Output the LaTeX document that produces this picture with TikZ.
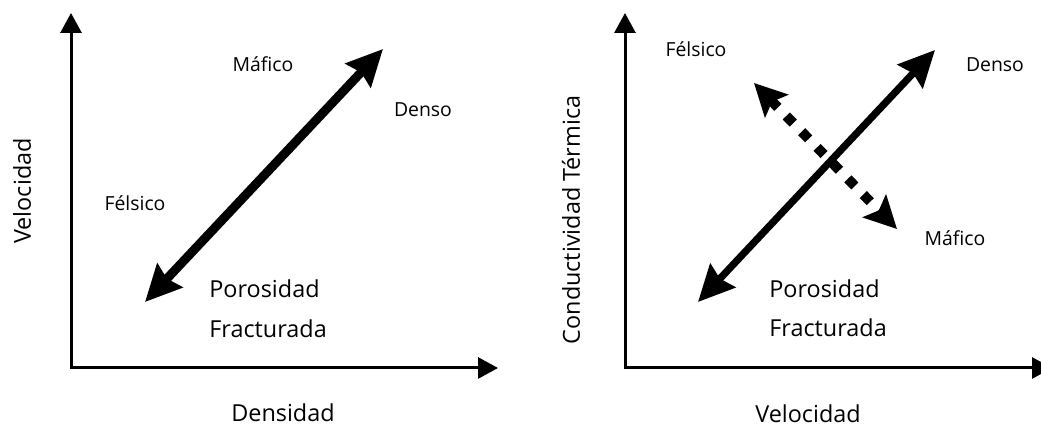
\documentclass[tikz,border=0pt]{standalone}
\usepackage{fontspec}
\setmainfont{Open Sans}
\usepackage{tikz}
\usetikzlibrary{arrows.meta}

\begin{document}
\begin{tikzpicture}[
  x=0.5pt, y=-0.5pt,
  ax/.style={line width=1.5pt, line join=miter, {Triangle[length=10pt,width=10.5pt]}-{Triangle[length=10pt,width=10.5pt]}},
  arr/.style={line width=4.5pt, {Stealth[length=18pt,width=17pt,inset=2pt]}-{Stealth[length=18pt,width=17pt,inset=2pt]}},
  darr/.style={line width=5pt, dash pattern=on 5pt off 6pt, {Stealth[length=16pt,width=16pt,inset=3pt]}-{Stealth[length=16pt,width=16pt,inset=3pt]}},
  lbl/.style={inner sep=0pt, anchor=base, font=\fontsize{9.7}{12}\selectfont},
  big/.style={inner sep=0pt, font=\fontsize{11.7}{14}\selectfont}]
\useasboundingbox (0,0) rectangle (1041,427);
% left panel
\coordinate (oL) at (71,368);
\coordinate (yL) at (71,13);
\coordinate (xL) at (498,368);
\draw[ax] (yL) -- (oL) -- (xL);
\coordinate (aL1) at (145,302);
\coordinate (aL2) at (383,49);
\draw[arr] (aL1) -- (aL2);
\node[lbl] (mafL) at (263,72) {Máfico};
\node[lbl] (denL) at (423,117) {Denso};
\node[lbl] (felL) at (135,211) {Félsico};
\node[big, anchor=base west] (porL) at (209,298) {Porosidad};
\node[big, anchor=base west] (fraL) at (209,338) {Fracturada};
\node[big, anchor=base] (xlabL) at (283,422) {Densidad};
\node[big, rotate=90] (ylabL) at (22,191) {Velocidad};
% right panel
\coordinate (oR) at (625,368);
\coordinate (yR) at (625,13);
\coordinate (xR) at (1052,368);
\draw[ax] (yR) -- (oR) -- (xR);
\coordinate (aR1) at (698,302);
\coordinate (aR2) at (935,50);
\draw[arr, line width=3.6pt] (aR1) -- (aR2);
\coordinate (dR1) at (754,83);
\coordinate (dR2) at (897,229);
\draw[darr] (dR1) -- (dR2);
\node[lbl] (felR) at (696,57) {Félsico};
\node[lbl] (denR) at (995,72) {Denso};
\node[lbl] (mafR) at (955,246) {Máfico};
\node[big, anchor=base west] (porR) at (769,298) {Porosidad};
\node[big, anchor=base west] (fraR) at (769,337) {Fracturada};
\node[big, anchor=base] (xlabR) at (808,423) {Velocidad};
\node[big, rotate=90] (ylabR) at (571,220) {Conductividad Térmica};
\end{tikzpicture}
\end{document}
